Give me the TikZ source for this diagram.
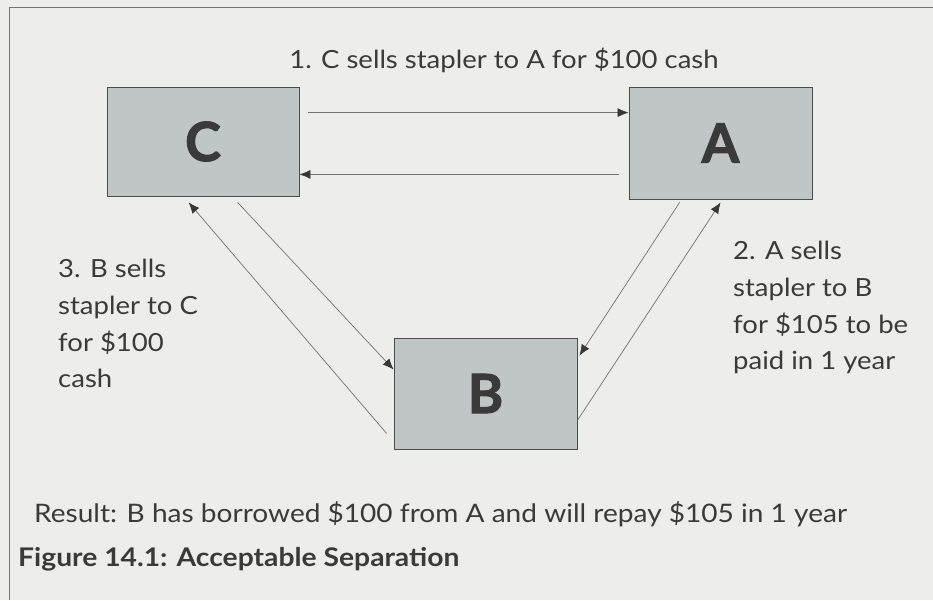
\documentclass[tikz,border=0pt]{standalone}
\usepackage{fontspec}
\setmainfont{Lato}[FakeStretch=1.1]
\newfontfamily\heavy{Lato}[FakeBold=2]
\usetikzlibrary{arrows.meta,calc}
\definecolor{bgc}{RGB}{237,237,236}
\definecolor{boxc}{RGB}{191,198,197}
\definecolor{txt}{RGB}{58,58,58}
\definecolor{linec}{RGB}{115,115,115}
\definecolor{tipc}{RGB}{55,55,55}
\tikzset{
  party/.style={draw=black!70, line width=0.8pt, fill=boxc, inner sep=0pt, text=txt,
    font=\fontsize{54}{54}\selectfont\heavy\bfseries},
  arr/.style={draw=linec, line width=0.7pt, -{Latex[length=11pt,width=9pt,fill=tipc,color=tipc]}},
  lbl/.style={text=txt, inner sep=0pt, align=left, anchor=north west,
    font=\fontsize{25}{36.7}\selectfont},
}
\begin{document}
\begin{tikzpicture}[x=1pt,y=-1pt]
\fill[bgc] (0,0) rectangle (933,600);
\useasboundingbox (0,0) rectangle (933,600);
\draw[linec, line width=0.8pt] (933,7) -- (9,7) -- (9,600);
% boxes
\node[party, minimum width=192pt, minimum height=109pt] (C) at (203,141.5) {C};
\node[party, minimum width=183pt, minimum height=112pt] (A) at (720.5,143) {A};
\node[party, minimum width=183pt, minimum height=111pt] (B) at (485.5,393.5) {B};
% arrows
\draw[arr] ([shift={(9,26)}]C.north east) -- ([shift={(0,26)}]A.north west);
\draw[arr] ([shift={(-10,-25)}]A.south west) -- ([shift={(0,-22)}]C.south east);
\draw[arr] ([shift={(131,6)}]C.south west) -- ([shift={(0,32)}]B.north west);
\draw[arr] ([shift={(-7,-16)}]B.south west) -- ([shift={(82,6)}]C.south west);
\draw[arr] ([shift={(51,3)}]A.south west) -- ([shift={(2,18)}]B.north east);
\draw[arr] ([shift={(0,-29)}]B.south east) -- ([shift={(92,3)}]A.south west);
% labels
\node[text=txt, inner sep=0pt, anchor=base, font=\fontsize{25}{25}\selectfont] (t1) at (504,68) {1. C sells stapler to A for \$100 cash};
\node[lbl] (t3) at (58,259) {3. B sells\\stapler to C\\for \$100\\cash};
\node[lbl] (t2) at (733,241) {2. A sells\\stapler to B\\for \$105 to be\\paid in 1 year};
\node[text=txt, inner sep=0pt, anchor=base west, font=\fontsize{25.5}{25.5}\selectfont] (res) at (34,522) {Result: B has borrowed \$100 from A and will repay \$105 in 1 year};
\node[text=txt, inner sep=0pt, anchor=base west, font=\fontsize{25.7}{25.7}\selectfont\bfseries] (cap) at (18,566) {Figure 14.1: Acceptable Separation};
\end{tikzpicture}
\end{document}
